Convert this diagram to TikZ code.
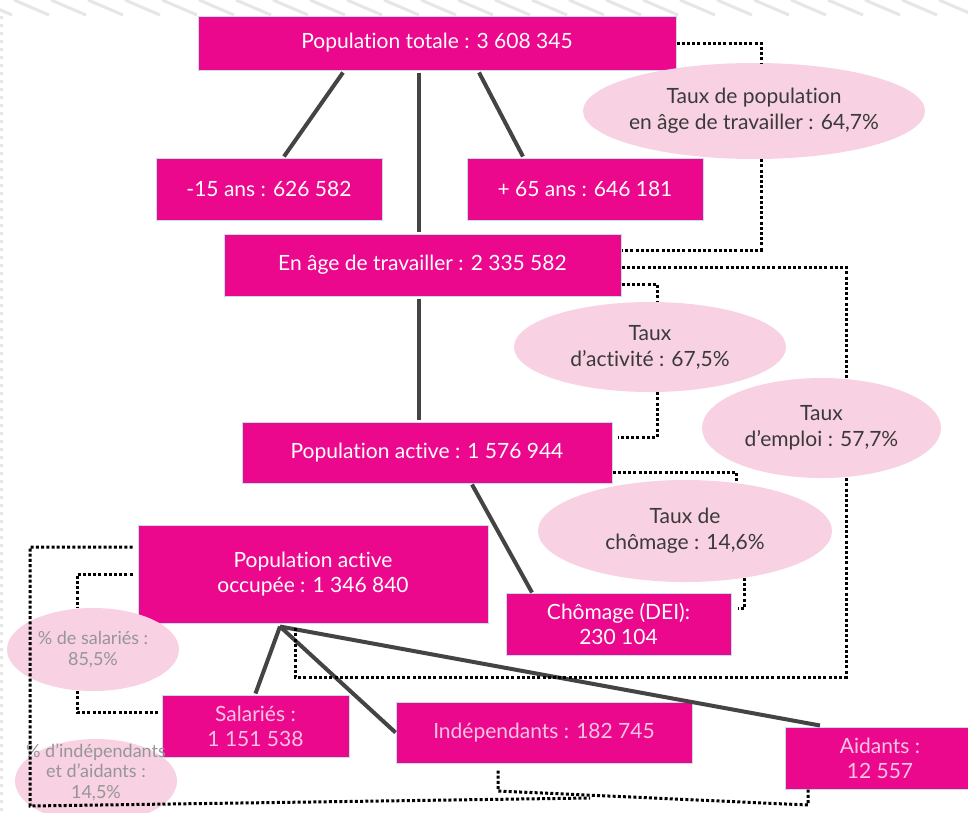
\documentclass[tikz,border=0pt]{standalone}
\usepackage{fontspec}
\setmainfont{Lato}[Ligatures=NoCommon]
\usetikzlibrary{shapes.geometric,calc}
\definecolor{boxpink}{RGB}{236,8,141}
\definecolor{boxedge}{RGB}{190,225,236}
\definecolor{ellpink}{RGB}{248,209,226}
\definecolor{txtdark}{RGB}{58,58,58}
\definecolor{txtgrey}{RGB}{150,150,150}
\definecolor{txtlight}{RGB}{246,196,224}
\definecolor{linegrey}{RGB}{68,68,68}
\definecolor{stripe}{RGB}{230,230,230}
\begin{document}
\begin{tikzpicture}[x=1pt,y=-1pt,
  box/.style={rectangle, fill=boxpink, draw=boxedge, line width=1pt, text=white, align=center, inner sep=0pt, font=\fontsize{21}{25}\selectfont},
  ell/.style={ellipse, fill=ellpink, draw=none, inner sep=0pt},
  elltxt/.style={align=center, text=txtdark, font=\fontsize{21}{26}\selectfont, inner sep=0pt},
  smalltxt/.style={align=center, text=txtgrey, font=\fontsize{18}{20.5}\selectfont, inner sep=0pt},
  link/.style={draw=linegrey, line width=4pt},
  dots/.style={draw=black, line width=3pt, dash pattern=on 3pt off 2.2pt},
]
\useasboundingbox (0,0) rectangle (968,812);
\clip (0,0) rectangle (968,812);
\fill[white] (0,0) rectangle (968,812);
% background texture
\begin{scope}
\clip (0,0) rectangle (968,15);
\foreach \x in {-60,-23,...,1000} \draw[stripe, line width=3pt] (\x,0) -- (\x+35,15);
\end{scope}
\draw[stripe, line width=2.5pt, dash pattern=on 3pt off 5pt] (1.5,16) -- (1.5,812);

% boxes
\node[box, minimum width=478, minimum height=54] (tot) at (437,43) {Population totale : 3 608 345};
\node[box, minimum width=226, minimum height=62] (m15) at (269,189) {-15 ans : 626 582};
\node[box, minimum width=236, minimum height=62] (p65) at (585,189) {+ 65 ans : 646 181};
\node[box, minimum width=397, minimum height=62] (age) at (422.5,265) {En âge de travailler : 2 335 582};
\node[box, minimum width=370, minimum height=61] (act) at (427,452.5) {Population active : 1 576 944};
\node[box, minimum width=350, minimum height=98] (occ) at (313,574) {Population active\\occupée : 1 346 840};
\node[box, minimum width=225, minimum height=62] (cho) at (618.5,624) {Chômage (DEI):\\230 104};
\node[box, text=txtlight, minimum width=187, minimum height=62] (sal) at (255.5,726) {Salariés :\\1 151 538};
\node[box, text=txtlight, minimum width=296, minimum height=61] (ind) at (544,732.5) {Indépendants : 182 745};
\node[box, text=txtlight, minimum width=190, minimum height=62] (aid) at (880,758) {Aidants :\\12 557};

% ellipses
\node[ell, minimum width=342, minimum height=96] (etp) at (754,111) {};
\node[elltxt] at (etp) {Taux de population\\en âge de travailler : 64,7\%};
\node[ell, minimum width=272, minimum height=90] (eact) at (650,347) {};
\node[elltxt] at (eact) {Taux\\d’activité : 67,5\%};
\node[ell, minimum width=239, minimum height=100] (eemp) at (821.5,428) {};
\node[elltxt] at (eemp) {Taux\\d’emploi : 57,7\%};
\node[ell, minimum width=294, minimum height=102] (echo) at (685,531) {};
\node[elltxt] at (echo) {Taux de\\chômage : 14,6\%};
\node[ell, minimum width=172, minimum height=83] (esal) at (93,649.5) {};
\node[smalltxt] at (esal) {\% de salariés :\\85,5\%};
\node[ell, minimum width=162, minimum height=84] (eind) at (96,781) {};
\node[smalltxt] at (96,772) {\% d’indépendants\\et d’aidants :\\14,5\%};

% solid links
\draw[link] ([xshift=-94,yshift=-2]tot.south) -- ([xshift=15,yshift=1]m15.north);
\draw[link] ([xshift=-18,yshift=-2]tot.south) -- ([xshift=-3.5,yshift=2]age.north);
\draw[link] ([xshift=42,yshift=-2]tot.south) -- ([xshift=-62,yshift=1]p65.north);
\draw[link] ([xshift=-3.5,yshift=-2]age.south) -- ([xshift=-8,yshift=2]act.north);
\draw[link] ([xshift=45,yshift=-1]act.south) -- ([xshift=-86.5]cho.north);
\coordinate (fan) at ([xshift=-33,yshift=-3]occ.south);
\draw[link] (fan) -- ([yshift=1]sal.north);
\draw[link] (fan) -- (ind.west);
\draw[link] (fan) -- ([xshift=-60,yshift=1]aid.north);

% dotted links
\coordinate (cc) at (295,677);
\coordinate (occb) at ([yshift=-4]occ.south);
\coordinate (lc) at (30,806);
\coordinate (lend) at (590,798);
\coordinate (b1) at (498,791);
\coordinate (b2) at (808,805);
\draw[dots] (tot.east) -| ([xshift=7]etp.north);
\draw[dots] ([xshift=7]etp.south) |- ([yshift=15]age.east);
\draw[dots] ([yshift=-2]age.east) -| ([xshift=24.5]eemp.north);
\draw[dots] ([xshift=24.5]eemp.south) |- (cc) -- (cc |- occb);
\draw[dots] ([yshift=-19]age.east) -| ([xshift=7]eact.north);
\draw[dots] ([xshift=7]eact.south) |- ([xshift=5,yshift=15.5]act.east);
\draw[dots] ([yshift=-19.5]act.east) -| (echo.43);
\draw[dots] (echo.-38) |- ([xshift=6,yshift=16]cho.east);
\draw[dots] ([xshift=-5,yshift=27]occ.west) -| (lc) -- (lend);
\draw[dots] ([xshift=-5]occ.west) -| ([xshift=-16]esal.north);
\draw[dots] ([xshift=-16]esal.south) |- ([xshift=-4,yshift=14]sal.west);
\draw[dots] ([xshift=-46,yshift=-7]ind.south) -- (b1) -- (b2) -- ([xshift=-72]aid.south);
\end{tikzpicture}
\end{document}
